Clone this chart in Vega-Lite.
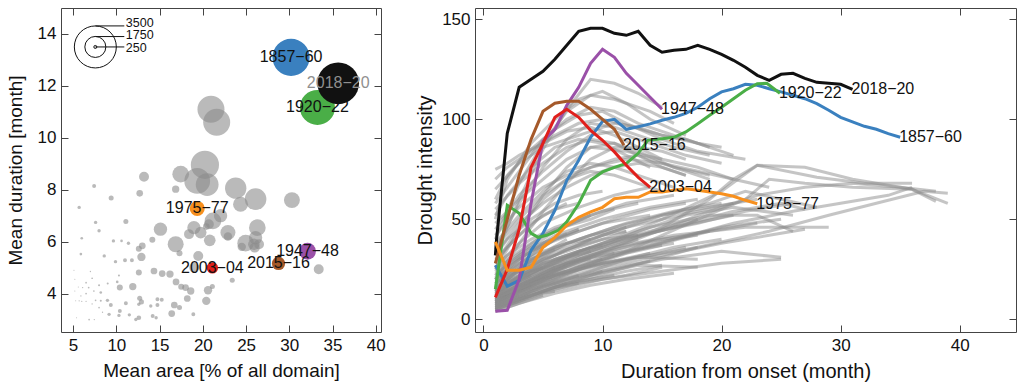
{
"$schema":"https://vega.github.io/schema/vega-lite/v6.json",
"padding":{"left":5,"top":4,"right":5,"bottom":0},
"spacing":29,
"datasets":{
"scat":[
{"area":20.94,"dur":11.1,"sev":2250},{"area":21.6,"dur":10.6,"sev":2250},{"area":20.24,"dur":8.96,"sev":2350},{"area":19.35,"dur":8.34,"sev":2150},{"area":20.5,"dur":8.2,"sev":1900},{"area":17.44,"dur":8.6,"sev":1390},{"area":23.8,"dur":8.06,"sev":1780},{"area":26.1,"dur":7.64,"sev":1800},{"area":24.36,"dur":7.44,"sev":1250},{"area":30.3,"dur":7.6,"sev":1330},
{"area":13.2,"dur":8.5,"sev":830},{"area":16.86,"dur":8.02,"sev":610},{"area":12.7,"dur":7.86,"sev":550},{"area":9.4,"dur":7.68,"sev":420},{"area":7.43,"dur":8.14,"sev":330},{"area":5.7,"dur":7.32,"sev":280},{"area":15.1,"dur":6.48,"sev":1110},{"area":16.86,"dur":5.9,"sev":1330},{"area":18.97,"dur":6.54,"sev":1110},{"area":19.75,"dur":6.35,"sev":970},
{"area":18.4,"dur":6.29,"sev":830},{"area":20.7,"dur":6.67,"sev":830},{"area":21.17,"dur":6.8,"sev":1390},{"area":22.05,"dur":7.0,"sev":1110},{"area":22.9,"dur":6.35,"sev":1250},{"area":20.8,"dur":6.05,"sev":970},{"area":26.3,"dur":6.54,"sev":1390},{"area":26.1,"dur":6.15,"sev":1110},{"area":24.95,"dur":5.94,"sev":1390},{"area":25.9,"dur":5.9,"sev":970},
{"area":26.5,"dur":5.9,"sev":830},{"area":24.5,"dur":5.8,"sev":700},{"area":33.4,"dur":4.94,"sev":830},{"area":19.47,"dur":5.45,"sev":830},{"area":14.16,"dur":6.07,"sev":500},{"area":13.0,"dur":5.84,"sev":560},{"area":17.3,"dur":5.55,"sev":500},{"area":19.0,"dur":5.0,"sev":830},{"area":15.3,"dur":4.77,"sev":560},{"area":16.2,"dur":4.75,"sev":610},
{"area":14.35,"dur":4.87,"sev":560},{"area":12.9,"dur":5.41,"sev":690},{"area":12.6,"dur":5.73,"sev":500},{"area":11.1,"dur":6.78,"sev":420},{"area":9.66,"dur":6.03,"sev":280},{"area":10.6,"dur":6.03,"sev":220},{"area":11.4,"dur":5.94,"sev":280},{"area":7.6,"dur":6.74,"sev":280},{"area":8.0,"dur":6.42,"sev":280},{"area":6.0,"dur":6.13,"sev":220},
{"area":5.9,"dur":5.52,"sev":220},{"area":8.6,"dur":5.45,"sev":280},{"area":9.9,"dur":5.23,"sev":280},{"area":11.0,"dur":5.28,"sev":330},{"area":11.8,"dur":5.28,"sev":330},{"area":12.6,"dur":4.81,"sev":500},{"area":16.9,"dur":4.45,"sev":560},{"area":17.5,"dur":4.26,"sev":500},{"area":18.0,"dur":4.23,"sev":560},{"area":18.6,"dur":4.1,"sev":610},
{"area":20.6,"dur":4.13,"sev":700},{"area":21.1,"dur":4.27,"sev":420},{"area":23.4,"dur":4.51,"sev":420},{"area":20.4,"dur":3.72,"sev":700},{"area":18.2,"dur":3.81,"sev":560},{"area":16.7,"dur":3.56,"sev":560},{"area":17.3,"dur":3.46,"sev":420},{"area":16.4,"dur":3.23,"sev":560},{"area":14.75,"dur":3.78,"sev":330},{"area":15.25,"dur":3.76,"sev":330},
{"area":14.75,"dur":3.56,"sev":330},{"area":13.98,"dur":3.52,"sev":280},{"area":14.2,"dur":3.14,"sev":330},{"area":14.6,"dur":3.07,"sev":280},{"area":18.9,"dur":3.2,"sev":330},{"area":11.9,"dur":4.27,"sev":610},{"area":10.4,"dur":4.23,"sev":500},{"area":12.7,"dur":3.82,"sev":420},{"area":12.9,"dur":3.68,"sev":420},{"area":12.6,"dur":3.59,"sev":280},
{"area":11.1,"dur":3.63,"sev":330},{"area":10.4,"dur":3.33,"sev":330},{"area":10.3,"dur":3.16,"sev":280},{"area":9.36,"dur":3.56,"sev":330},{"area":8.97,"dur":3.74,"sev":280},{"area":9.16,"dur":3.2,"sev":280},{"area":12.6,"dur":3.07,"sev":390},{"area":12.25,"dur":3.0,"sev":280},{"area":11.5,"dur":3.18,"sev":280},{"area":8.2,"dur":4.04,"sev":220},
{"area":9.0,"dur":4.39,"sev":170},{"area":10.1,"dur":4.45,"sev":220},{"area":10.3,"dur":4.7,"sev":170},{"area":8.0,"dur":4.32,"sev":170},{"area":7.2,"dur":4.59,"sev":140},{"area":6.5,"dur":4.42,"sev":140},{"area":6.1,"dur":4.23,"sev":110},{"area":6.8,"dur":4.23,"sev":140},{"area":7.4,"dur":4.1,"sev":140},{"area":6.5,"dur":4.0,"sev":140},
{"area":5.9,"dur":3.91,"sev":110},{"area":5.3,"dur":3.72,"sev":85},{"area":5.7,"dur":3.72,"sev":110},{"area":7.6,"dur":3.74,"sev":140},{"area":7.2,"dur":3.6,"sev":110},{"area":8.0,"dur":3.46,"sev":140},{"area":6.85,"dur":3.0,"sev":140},{"area":6.0,"dur":3.7,"sev":110},{"area":5.2,"dur":4.1,"sev":85},{"area":5.2,"dur":4.55,"sev":85},
{"area":5.1,"dur":4.9,"sev":85},{"area":5.4,"dur":3.07,"sev":85},{"area":7.0,"dur":4.85,"sev":110},{"area":8.2,"dur":3.72,"sev":170},{"area":8.4,"dur":3.28,"sev":110},{"area":5.6,"dur":4.25,"sev":85},{"area":6.5,"dur":3.7,"sev":110},{"area":7.45,"dur":3.0,"sev":110},{"area":20.4,"dur":6.58,"sev":550},{"area":26.0,"dur":5.77,"sev":830},
{"area":22.9,"dur":6.2,"sev":700}
],
"events":[
{"event":"1857−60","area":30.2,"dur":13.1,"sev":3100},
{"event":"1920−22","area":33.25,"dur":11.17,"sev":2920},
{"event":"2018−20","area":35.65,"dur":12.1,"sev":3475},
{"event":"1975−77","area":19.35,"dur":7.28,"sev":1250},
{"event":"1947−48","area":32.1,"dur":5.63,"sev":1400},
{"event":"2015−16","area":28.75,"dur":5.16,"sev":1100},
{"event":"2003−04","area":21.1,"dur":4.99,"sev":950}
],
"sizeKey":[
{"sev":3500,"ry":14.31,"ty":14.44},
{"sev":1750,"ry":13.9,"ty":13.97},
{"sev":250,"ry":13.5,"ty":13.46}
],
"hl":[
{"event":"2018−20","m":1,"v":32},{"event":"2018−20","m":1.1,"v":40},{"event":"2018−20","m":2,"v":93},{"event":"2018−20","m":3,"v":116},{"event":"2018−20","m":4,"v":120},{"event":"2018−20","m":5,"v":124},{"event":"2018−20","m":6,"v":130},{"event":"2018−20","m":7,"v":137},{"event":"2018−20","m":8,"v":144},{"event":"2018−20","m":9,"v":145.5},{"event":"2018−20","m":10,"v":145.5},{"event":"2018−20","m":11,"v":143},{"event":"2018−20","m":12,"v":142},{"event":"2018−20","m":13,"v":144},{"event":"2018−20","m":14,"v":137},{"event":"2018−20","m":15,"v":133.5},{"event":"2018−20","m":16,"v":134.5},{"event":"2018−20","m":17,"v":135},{"event":"2018−20","m":18,"v":137},{"event":"2018−20","m":19,"v":135},{"event":"2018−20","m":20,"v":132.5},{"event":"2018−20","m":21,"v":129.5},{"event":"2018−20","m":22,"v":126},{"event":"2018−20","m":23,"v":122},{"event":"2018−20","m":24,"v":119.5},{"event":"2018−20","m":25,"v":122.5},{"event":"2018−20","m":26,"v":123},{"event":"2018−20","m":27,"v":120.5},{"event":"2018−20","m":28,"v":118.5},{"event":"2018−20","m":29,"v":118},{"event":"2018−20","m":30,"v":117.5},{"event":"2018−20","m":31,"v":115},
{"event":"1857−60","m":1,"v":27},{"event":"1857−60","m":2,"v":16.5},{"event":"1857−60","m":3,"v":19.5},{"event":"1857−60","m":4,"v":34.5},{"event":"1857−60","m":5,"v":43},{"event":"1857−60","m":6,"v":54.5},{"event":"1857−60","m":7,"v":69.5},{"event":"1857−60","m":8,"v":79.5},{"event":"1857−60","m":9,"v":91},{"event":"1857−60","m":10,"v":99},{"event":"1857−60","m":11,"v":100},{"event":"1857−60","m":12,"v":95},{"event":"1857−60","m":13,"v":96.3},{"event":"1857−60","m":14,"v":97.7},{"event":"1857−60","m":15,"v":99.5},{"event":"1857−60","m":16,"v":101},{"event":"1857−60","m":17,"v":103},{"event":"1857−60","m":18,"v":106},{"event":"1857−60","m":19,"v":110.3},{"event":"1857−60","m":20,"v":113.7},{"event":"1857−60","m":21,"v":115.3},{"event":"1857−60","m":22,"v":117.5},{"event":"1857−60","m":23,"v":117},{"event":"1857−60","m":24,"v":115.3},{"event":"1857−60","m":25,"v":113.7},{"event":"1857−60","m":26,"v":112},{"event":"1857−60","m":27,"v":110.3},{"event":"1857−60","m":28,"v":107.8},{"event":"1857−60","m":29,"v":104.5},{"event":"1857−60","m":30,"v":101},{"event":"1857−60","m":31,"v":98.7},{"event":"1857−60","m":32,"v":96.5},{"event":"1857−60","m":33,"v":95},{"event":"1857−60","m":34,"v":92.8},{"event":"1857−60","m":35,"v":91},
{"event":"1920−22","m":1,"v":15},{"event":"1920−22","m":1.1,"v":19},{"event":"1920−22","m":2,"v":57},{"event":"1920−22","m":3,"v":53},{"event":"1920−22","m":4,"v":43},{"event":"1920−22","m":4.6,"v":41},{"event":"1920−22","m":5.3,"v":42},{"event":"1920−22","m":6.3,"v":44.5},{"event":"1920−22","m":7,"v":48.7},{"event":"1920−22","m":8,"v":57.8},{"event":"1920−22","m":9,"v":69.5},{"event":"1920−22","m":10,"v":73.7},{"event":"1920−22","m":11,"v":76},{"event":"1920−22","m":12,"v":78},{"event":"1920−22","m":13,"v":83},{"event":"1920−22","m":13.8,"v":89.5},{"event":"1920−22","m":15,"v":90.3},{"event":"1920−22","m":16,"v":91},{"event":"1920−22","m":17,"v":93.7},{"event":"1920−22","m":18,"v":97.8},{"event":"1920−22","m":19,"v":102},{"event":"1920−22","m":20,"v":106},{"event":"1920−22","m":21,"v":110.3},{"event":"1920−22","m":22,"v":114.5},{"event":"1920−22","m":23,"v":117.8},{"event":"1920−22","m":23.8,"v":118},{"event":"1920−22","m":24.9,"v":113},
{"event":"1947−48","m":1,"v":4},{"event":"1947−48","m":2,"v":4.5},{"event":"1947−48","m":3,"v":20},{"event":"1947−48","m":4,"v":58},{"event":"1947−48","m":5,"v":89},{"event":"1947−48","m":6,"v":95},{"event":"1947−48","m":7,"v":107},{"event":"1947−48","m":8,"v":116},{"event":"1947−48","m":9,"v":128},{"event":"1947−48","m":10,"v":135},{"event":"1947−48","m":11,"v":131},{"event":"1947−48","m":12,"v":123},{"event":"1947−48","m":13,"v":117},{"event":"1947−48","m":14,"v":111},{"event":"1947−48","m":15,"v":105},
{"event":"2015−16","m":1,"v":28},{"event":"2015−16","m":2,"v":50},{"event":"2015−16","m":3,"v":72},{"event":"2015−16","m":4,"v":90},{"event":"2015−16","m":5,"v":104},{"event":"2015−16","m":6,"v":108},{"event":"2015−16","m":7,"v":109},{"event":"2015−16","m":8,"v":109},{"event":"2015−16","m":9,"v":105},{"event":"2015−16","m":10,"v":100},{"event":"2015−16","m":11,"v":95},{"event":"2015−16","m":11.8,"v":87},
{"event":"2003−04","m":1,"v":11},{"event":"2003−04","m":2,"v":25},{"event":"2003−04","m":3,"v":45},{"event":"2003−04","m":4,"v":76},{"event":"2003−04","m":5,"v":88},{"event":"2003−04","m":6,"v":101},{"event":"2003−04","m":7,"v":105},{"event":"2003−04","m":8,"v":101},{"event":"2003−04","m":9,"v":94.5},{"event":"2003−04","m":10,"v":89.5},{"event":"2003−04","m":11,"v":83.7},{"event":"2003−04","m":12,"v":77},{"event":"2003−04","m":13,"v":71},{"event":"2003−04","m":14,"v":66},
{"event":"1975−77","m":1,"v":38.7},{"event":"1975−77","m":2,"v":24.5},{"event":"1975−77","m":3,"v":24.5},{"event":"1975−77","m":4,"v":26},{"event":"1975−77","m":5,"v":36},{"event":"1975−77","m":6,"v":41},{"event":"1975−77","m":7,"v":47},{"event":"1975−77","m":8,"v":51},{"event":"1975−77","m":9,"v":53.7},{"event":"1975−77","m":10,"v":56},{"event":"1975−77","m":11,"v":60.3},{"event":"1975−77","m":12,"v":61},{"event":"1975−77","m":13,"v":61},{"event":"1975−77","m":14,"v":63.7},{"event":"1975−77","m":15,"v":63.7},{"event":"1975−77","m":16,"v":64.5},{"event":"1975−77","m":17,"v":65.3},{"event":"1975−77","m":18,"v":64.5},{"event":"1975−77","m":19,"v":63.7},{"event":"1975−77","m":20,"v":62.8},{"event":"1975−77","m":21,"v":61.5},{"event":"1975−77","m":22,"v":59.5},{"event":"1975−77","m":23,"v":57.8}
],
"curves":[
{"id":"A1","m":1,"v":5},{"id":"A1","m":3,"v":9},{"id":"A1","m":5,"v":14},{"id":"A1","m":7,"v":18},
{"id":"A2","m":1,"v":6},{"id":"A2","m":2,"v":8},{"id":"A2","m":4,"v":14},{"id":"A2","m":6,"v":19},{"id":"A2","m":8,"v":22},
{"id":"A3","m":1,"v":8},{"id":"A3","m":3,"v":15},{"id":"A3","m":5,"v":22},{"id":"A3","m":7,"v":27},
{"id":"A4","m":1,"v":10},{"id":"A4","m":2,"v":14},{"id":"A4","m":4,"v":20},{"id":"A4","m":6,"v":26},
{"id":"A5","m":1,"v":12},{"id":"A5","m":3,"v":20},{"id":"A5","m":5,"v":28},{"id":"A5","m":8,"v":33},
{"id":"A6","m":1,"v":7},{"id":"A6","m":4,"v":18},{"id":"A6","m":7,"v":26},{"id":"A6","m":10,"v":30},
{"id":"A7","m":1,"v":9},{"id":"A7","m":3,"v":18},{"id":"A7","m":6,"v":30},{"id":"A7","m":9,"v":36},
{"id":"A8","m":1,"v":14},{"id":"A8","m":2,"v":20},{"id":"A8","m":4,"v":30},{"id":"A8","m":6,"v":35},
{"id":"A9","m":1,"v":15},{"id":"A9","m":3,"v":25},{"id":"A9","m":5,"v":33},{"id":"A9","m":7,"v":40},
{"id":"A10","m":1,"v":6},{"id":"A10","m":3,"v":11},{"id":"A10","m":6,"v":17},{"id":"A10","m":9,"v":20},{"id":"A10","m":11,"v":22},
{"id":"A11","m":1,"v":11},{"id":"A11","m":2,"v":13},{"id":"A11","m":5,"v":24},{"id":"A11","m":8,"v":29},{"id":"A11","m":11,"v":33},
{"id":"A12","m":1,"v":18},{"id":"A12","m":2,"v":23},{"id":"A12","m":4,"v":32},{"id":"A12","m":6,"v":40},
{"id":"A13","m":1,"v":20},{"id":"A13","m":3,"v":30},{"id":"A13","m":5,"v":38},{"id":"A13","m":8,"v":45},
{"id":"A14","m":1,"v":4},{"id":"A14","m":2,"v":6},{"id":"A14","m":4,"v":10},{"id":"A14","m":5,"v":12},
{"id":"A15","m":1,"v":13},{"id":"A15","m":4,"v":26},{"id":"A15","m":7,"v":35},{"id":"A15","m":10,"v":40},{"id":"A15","m":13,"v":42},
{"id":"A16","m":1,"v":9},{"id":"A16","m":3,"v":14},{"id":"A16","m":6,"v":22},{"id":"A16","m":10,"v":28},{"id":"A16","m":14,"v":33},
{"id":"A17","m":1,"v":16},{"id":"A17","m":3,"v":22},{"id":"A17","m":5,"v":30},{"id":"A17","m":9,"v":38},{"id":"A17","m":12,"v":44},
{"id":"A18","m":1,"v":22},{"id":"A18","m":2,"v":28},{"id":"A18","m":4,"v":36},{"id":"A18","m":7,"v":43},
{"id":"A19","m":1,"v":25},{"id":"A19","m":3,"v":33},{"id":"A19","m":5,"v":42},{"id":"A19","m":7,"v":47},{"id":"A19","m":9,"v":52},
{"id":"A20","m":1,"v":8},{"id":"A20","m":2,"v":10},{"id":"A20","m":3,"v":12},
{"id":"A21","m":1,"v":12},{"id":"A21","m":2,"v":16},{"id":"A21","m":3,"v":19},{"id":"A21","m":4,"v":22},
{"id":"A22","m":1,"v":17},{"id":"A22","m":3,"v":26},{"id":"A22","m":6,"v":36},{"id":"A22","m":9,"v":42},{"id":"A22","m":12,"v":46},
{"id":"A23","m":1,"v":5},{"id":"A23","m":4,"v":12},{"id":"A23","m":8,"v":18},{"id":"A23","m":12,"v":22},{"id":"A23","m":15,"v":26},
{"id":"A24","m":1,"v":7},{"id":"A24","m":5,"v":16},{"id":"A24","m":9,"v":22},{"id":"A24","m":13,"v":27},{"id":"A24","m":18,"v":26},
{"id":"A25","m":1,"v":10},{"id":"A25","m":5,"v":20},{"id":"A25","m":9,"v":26},{"id":"A25","m":13,"v":31},{"id":"A25","m":18,"v":30},
{"id":"A26","m":1,"v":14},{"id":"A26","m":4,"v":24},{"id":"A26","m":8,"v":30},{"id":"A26","m":12,"v":34},{"id":"A26","m":16,"v":38},
{"id":"A27","m":1,"v":19},{"id":"A27","m":3,"v":28},{"id":"A27","m":6,"v":40},{"id":"A27","m":10,"v":48},{"id":"A27","m":14,"v":52},
{"id":"A28","m":1,"v":28},{"id":"A28","m":2,"v":36},{"id":"A28","m":4,"v":48},{"id":"A28","m":6,"v":55},{"id":"A28","m":8,"v":58},
{"id":"A29","m":1,"v":30},{"id":"A29","m":3,"v":42},{"id":"A29","m":5,"v":52},{"id":"A29","m":7,"v":58},
{"id":"A30","m":1,"v":24},{"id":"A30","m":2,"v":30},{"id":"A30","m":4,"v":38},{"id":"A30","m":6,"v":45},{"id":"A30","m":9,"v":50},{"id":"A30","m":11,"v":55},
{"id":"A31","m":1,"v":5},{"id":"A31","m":2,"v":7},{"id":"A31","m":3,"v":9},{"id":"A31","m":4,"v":11},{"id":"A31","m":5,"v":13},{"id":"A31","m":6,"v":14},
{"id":"A32","m":1,"v":7},{"id":"A32","m":2,"v":10},{"id":"A32","m":4,"v":15},{"id":"A32","m":6,"v":18},{"id":"A32","m":8,"v":21},{"id":"A32","m":10,"v":24},
{"id":"A33","m":1,"v":9},{"id":"A33","m":2,"v":12},{"id":"A33","m":3,"v":16},{"id":"A33","m":5,"v":21},{"id":"A33","m":7,"v":24},
{"id":"A34","m":1,"v":11},{"id":"A34","m":3,"v":17},{"id":"A34","m":5,"v":23},{"id":"A34","m":7,"v":28},{"id":"A34","m":9,"v":30},
{"id":"A35","m":1,"v":13},{"id":"A35","m":2,"v":17},{"id":"A35","m":4,"v":25},{"id":"A35","m":6,"v":30},{"id":"A35","m":8,"v":34},{"id":"A35","m":10,"v":37},
{"id":"A36","m":1,"v":6},{"id":"A36","m":3,"v":12},{"id":"A36","m":5,"v":17},{"id":"A36","m":7,"v":20},{"id":"A36","m":9,"v":23},{"id":"A36","m":12,"v":27},{"id":"A36","m":14,"v":29},
{"id":"A37","m":1,"v":8},{"id":"A37","m":3,"v":14},{"id":"A37","m":5,"v":19},{"id":"A37","m":8,"v":25},{"id":"A37","m":11,"v":29},{"id":"A37","m":14,"v":32},{"id":"A37","m":17,"v":36},
{"id":"A38","m":1,"v":10},{"id":"A38","m":2,"v":12},{"id":"A38","m":3,"v":15},{"id":"A38","m":4,"v":17},
{"id":"A39","m":1,"v":15},{"id":"A39","m":2,"v":19},{"id":"A39","m":3,"v":22},{"id":"A39","m":5,"v":27},{"id":"A39","m":7,"v":31},{"id":"A39","m":9,"v":34},
{"id":"A40","m":1,"v":18},{"id":"A40","m":2,"v":22},{"id":"A40","m":4,"v":28},{"id":"A40","m":6,"v":34},{"id":"A40","m":8,"v":38},{"id":"A40","m":10,"v":42},{"id":"A40","m":12,"v":44},
{"id":"A41","m":1,"v":21},{"id":"A41","m":2,"v":26},{"id":"A41","m":4,"v":34},{"id":"A41","m":6,"v":40},{"id":"A41","m":8,"v":45},
{"id":"A42","m":1,"v":4},{"id":"A42","m":3,"v":8},{"id":"A42","m":6,"v":13},{"id":"A42","m":9,"v":17},{"id":"A42","m":12,"v":20},{"id":"A42","m":16,"v":23},
{"id":"A43","m":1,"v":12},{"id":"A43","m":4,"v":19},{"id":"A43","m":8,"v":26},{"id":"A43","m":12,"v":30},{"id":"A43","m":16,"v":34},{"id":"A43","m":18,"v":36},
{"id":"A44","m":1,"v":26},{"id":"A44","m":2,"v":32},{"id":"A44","m":4,"v":40},{"id":"A44","m":6,"v":46},{"id":"A44","m":8,"v":50},{"id":"A44","m":10,"v":54},{"id":"A44","m":13,"v":58},
{"id":"A45","m":1,"v":32},{"id":"A45","m":2,"v":40},{"id":"A45","m":4,"v":50},{"id":"A45","m":6,"v":58},{"id":"A45","m":8,"v":62},{"id":"A45","m":10,"v":64},
{"id":"A46","m":1,"v":23},{"id":"A46","m":3,"v":31},{"id":"A46","m":5,"v":37},{"id":"A46","m":8,"v":44},{"id":"A46","m":11,"v":50},{"id":"A46","m":14,"v":55},{"id":"A46","m":17,"v":58},
{"id":"A47","m":1,"v":16},{"id":"A47","m":3,"v":24},{"id":"A47","m":6,"v":32},{"id":"A47","m":9,"v":40},{"id":"A47","m":12,"v":46},{"id":"A47","m":15,"v":50},{"id":"A47","m":18,"v":54},{"id":"A47","m":21,"v":58},
{"id":"A48","m":1,"v":5},{"id":"A48","m":2,"v":8},{"id":"A48","m":3,"v":10},{"id":"A48","m":4,"v":13},{"id":"A48","m":6,"v":16},{"id":"A48","m":8,"v":18},
{"id":"A49","m":1,"v":14},{"id":"A49","m":2,"v":18},{"id":"A49","m":3,"v":20},{"id":"A49","m":4,"v":24},{"id":"A49","m":5,"v":26},
{"id":"A50","m":1,"v":20},{"id":"A50","m":2,"v":24},{"id":"A50","m":3,"v":28},{"id":"A50","m":5,"v":34},{"id":"A50","m":7,"v":38},{"id":"A50","m":9,"v":40},
{"id":"B1","m":1,"v":6},{"id":"B1","m":4,"v":14},{"id":"B1","m":8,"v":22},{"id":"B1","m":12,"v":30},{"id":"B1","m":16,"v":36},{"id":"B1","m":20,"v":40},
{"id":"B2","m":1,"v":9},{"id":"B2","m":5,"v":20},{"id":"B2","m":10,"v":30},{"id":"B2","m":15,"v":38},{"id":"B2","m":19,"v":44},{"id":"B2","m":23,"v":48},
{"id":"B3","m":1,"v":12},{"id":"B3","m":4,"v":22},{"id":"B3","m":8,"v":32},{"id":"B3","m":12,"v":40},{"id":"B3","m":16,"v":46},{"id":"B3","m":21,"v":52},
{"id":"B4","m":1,"v":15},{"id":"B4","m":5,"v":28},{"id":"B4","m":10,"v":38},{"id":"B4","m":14,"v":44},{"id":"B4","m":18,"v":50},
{"id":"B5","m":1,"v":8},{"id":"B5","m":6,"v":22},{"id":"B5","m":11,"v":33},{"id":"B5","m":16,"v":40},{"id":"B5","m":20,"v":46},{"id":"B5","m":25,"v":50},
{"id":"B6","m":1,"v":18},{"id":"B6","m":4,"v":30},{"id":"B6","m":8,"v":40},{"id":"B6","m":12,"v":48},{"id":"B6","m":16,"v":54},{"id":"B6","m":20,"v":58},
{"id":"B7","m":1,"v":5},{"id":"B7","m":5,"v":14},{"id":"B7","m":10,"v":24},{"id":"B7","m":15,"v":30},{"id":"B7","m":20,"v":34},{"id":"B7","m":25,"v":31},
{"id":"B8","m":1,"v":10},{"id":"B8","m":5,"v":22},{"id":"B8","m":9,"v":34},{"id":"B8","m":13,"v":44},{"id":"B8","m":17,"v":52},{"id":"B8","m":21,"v":56},{"id":"B8","m":26,"v":52},
{"id":"B9","m":1,"v":20},{"id":"B9","m":3,"v":30},{"id":"B9","m":6,"v":42},{"id":"B9","m":10,"v":50},{"id":"B9","m":14,"v":56},{"id":"B9","m":18,"v":60},
{"id":"B10","m":1,"v":7},{"id":"B10","m":4,"v":16},{"id":"B10","m":8,"v":25},{"id":"B10","m":12,"v":33},{"id":"B10","m":15,"v":37},
{"id":"B11","m":1,"v":11},{"id":"B11","m":6,"v":26},{"id":"B11","m":11,"v":36},{"id":"B11","m":16,"v":42},{"id":"B11","m":22,"v":46},{"id":"B11","m":29,"v":46},
{"id":"B12","m":1,"v":13},{"id":"B12","m":5,"v":26},{"id":"B12","m":9,"v":36},{"id":"B12","m":14,"v":46},{"id":"B12","m":19,"v":52},{"id":"B12","m":23,"v":52},{"id":"B12","m":26,"v":44},
{"id":"B13","m":1,"v":16},{"id":"B13","m":4,"v":28},{"id":"B13","m":7,"v":38},{"id":"B13","m":11,"v":46},{"id":"B13","m":15,"v":52},{"id":"B13","m":19,"v":56},{"id":"B13","m":23,"v":60},
{"id":"B14","m":1,"v":9},{"id":"B14","m":4,"v":18},{"id":"B14","m":7,"v":27},{"id":"B14","m":10,"v":35},{"id":"B14","m":13,"v":40},
{"id":"B15","m":1,"v":22},{"id":"B15","m":3,"v":32},{"id":"B15","m":6,"v":44},{"id":"B15","m":9,"v":52},{"id":"B15","m":12,"v":58},{"id":"B15","m":16,"v":62},
{"id":"B16","m":1,"v":12},{"id":"B16","m":3,"v":18},{"id":"B16","m":6,"v":26},{"id":"B16","m":9,"v":32},{"id":"B16","m":12,"v":36},{"id":"B16","m":15,"v":40},{"id":"B16","m":18,"v":42},
{"id":"B17","m":1,"v":14},{"id":"B17","m":4,"v":22},{"id":"B17","m":8,"v":34},{"id":"B17","m":13,"v":42},{"id":"B17","m":18,"v":48},{"id":"B17","m":22,"v":54},{"id":"B17","m":26,"v":58},
{"id":"B18","m":1,"v":6},{"id":"B18","m":3,"v":10},{"id":"B18","m":6,"v":16},{"id":"B18","m":9,"v":20},{"id":"B18","m":12,"v":24},{"id":"B18","m":15,"v":27},
{"id":"B19","m":1,"v":26},{"id":"B19","m":3,"v":38},{"id":"B19","m":5,"v":48},{"id":"B19","m":8,"v":56},{"id":"B19","m":11,"v":62},{"id":"B19","m":14,"v":66},
{"id":"B20","m":1,"v":10},{"id":"B20","m":3,"v":16},{"id":"B20","m":6,"v":24},{"id":"B20","m":10,"v":33},{"id":"B20","m":13,"v":38},{"id":"B20","m":16,"v":41},{"id":"B20","m":19,"v":44},
{"id":"C1","m":1,"v":32},{"id":"C1","m":3,"v":60},{"id":"C1","m":5,"v":85},{"id":"C1","m":7,"v":105},{"id":"C1","m":9,"v":120},{"id":"C1","m":11,"v":118},{"id":"C1","m":13,"v":113},{"id":"C1","m":15,"v":106},
{"id":"C2","m":1,"v":40},{"id":"C2","m":3,"v":68},{"id":"C2","m":5,"v":88},{"id":"C2","m":7,"v":104},{"id":"C2","m":9,"v":112},{"id":"C2","m":11,"v":110},{"id":"C2","m":14,"v":104},{"id":"C2","m":16,"v":98},
{"id":"C3","m":1,"v":50},{"id":"C3","m":2,"v":70},{"id":"C3","m":4,"v":88},{"id":"C3","m":6,"v":100},{"id":"C3","m":8,"v":110},{"id":"C3","m":10,"v":114},{"id":"C3","m":12,"v":108},{"id":"C3","m":14,"v":100},{"id":"C3","m":17,"v":92},
{"id":"C4","m":1,"v":35},{"id":"C4","m":3,"v":58},{"id":"C4","m":5,"v":76},{"id":"C4","m":7,"v":90},{"id":"C4","m":9,"v":98},{"id":"C4","m":11,"v":96},{"id":"C4","m":13,"v":92},{"id":"C4","m":16,"v":86},{"id":"C4","m":19,"v":82},
{"id":"C5","m":1,"v":60},{"id":"C5","m":2,"v":72},{"id":"C5","m":4,"v":85},{"id":"C5","m":6,"v":95},{"id":"C5","m":8,"v":102},{"id":"C5","m":10,"v":104},{"id":"C5","m":12,"v":98},{"id":"C5","m":15,"v":90},{"id":"C5","m":18,"v":84},{"id":"C5","m":22,"v":80},
{"id":"C6","m":1,"v":45},{"id":"C6","m":3,"v":62},{"id":"C6","m":5,"v":74},{"id":"C6","m":7,"v":84},{"id":"C6","m":9,"v":92},{"id":"C6","m":11,"v":94},{"id":"C6","m":14,"v":88},{"id":"C6","m":17,"v":82},{"id":"C6","m":20,"v":78},
{"id":"C7","m":1,"v":25},{"id":"C7","m":3,"v":45},{"id":"C7","m":5,"v":62},{"id":"C7","m":7,"v":76},{"id":"C7","m":9,"v":86},{"id":"C7","m":11,"v":88},{"id":"C7","m":13,"v":84},{"id":"C7","m":16,"v":76},{"id":"C7","m":19,"v":72},
{"id":"C8","m":1,"v":70},{"id":"C8","m":2,"v":76},{"id":"C8","m":4,"v":84},{"id":"C8","m":6,"v":92},{"id":"C8","m":8,"v":98},{"id":"C8","m":10,"v":100},{"id":"C8","m":12,"v":97},{"id":"C8","m":15,"v":92},{"id":"C8","m":18,"v":88},{"id":"C8","m":20,"v":86},
{"id":"C9","m":1,"v":55},{"id":"C9","m":3,"v":68},{"id":"C9","m":5,"v":78},{"id":"C9","m":7,"v":86},{"id":"C9","m":9,"v":90},{"id":"C9","m":11,"v":88},{"id":"C9","m":13,"v":82},{"id":"C9","m":15,"v":76},{"id":"C9","m":17,"v":72},
{"id":"C10","m":1,"v":20},{"id":"C10","m":3,"v":38},{"id":"C10","m":5,"v":54},{"id":"C10","m":7,"v":68},{"id":"C10","m":9,"v":80},{"id":"C10","m":11,"v":86},{"id":"C10","m":13,"v":86},{"id":"C10","m":15,"v":84},{"id":"C10","m":17,"v":80},
{"id":"C11","m":1,"v":75},{"id":"C11","m":2,"v":78},{"id":"C11","m":3,"v":82},{"id":"C11","m":5,"v":88},{"id":"C11","m":7,"v":94},{"id":"C11","m":9,"v":96},{"id":"C11","m":11,"v":92},{"id":"C11","m":13,"v":86},{"id":"C11","m":15,"v":80},
{"id":"C12","m":1,"v":38},{"id":"C12","m":3,"v":52},{"id":"C12","m":5,"v":64},{"id":"C12","m":7,"v":74},{"id":"C12","m":9,"v":78},{"id":"C12","m":11,"v":76},{"id":"C12","m":13,"v":72},{"id":"C12","m":16,"v":66},
{"id":"C13","m":1,"v":48},{"id":"C13","m":3,"v":60},{"id":"C13","m":5,"v":70},{"id":"C13","m":7,"v":80},{"id":"C13","m":9,"v":86},{"id":"C13","m":12,"v":84},{"id":"C13","m":15,"v":80},{"id":"C13","m":18,"v":76},{"id":"C13","m":21,"v":70},
{"id":"C14","m":1,"v":28},{"id":"C14","m":3,"v":46},{"id":"C14","m":5,"v":60},{"id":"C14","m":7,"v":70},{"id":"C14","m":9,"v":74},{"id":"C14","m":11,"v":72},{"id":"C14","m":13,"v":68},{"id":"C14","m":15,"v":64},
{"id":"C15","m":1,"v":65},{"id":"C15","m":3,"v":78},{"id":"C15","m":5,"v":86},{"id":"C15","m":7,"v":90},{"id":"C15","m":9,"v":94},{"id":"C15","m":11,"v":98},{"id":"C15","m":13,"v":96},{"id":"C15","m":15,"v":92},{"id":"C15","m":17,"v":90},{"id":"C15","m":19,"v":86},
{"id":"C16","m":1,"v":42},{"id":"C16","m":3,"v":56},{"id":"C16","m":5,"v":66},{"id":"C16","m":7,"v":72},{"id":"C16","m":9,"v":76},{"id":"C16","m":11,"v":80},{"id":"C16","m":13,"v":82},{"id":"C16","m":15,"v":78},{"id":"C16","m":17,"v":74},{"id":"C16","m":19,"v":70},
{"id":"C17","m":1,"v":52},{"id":"C17","m":2,"v":62},{"id":"C17","m":4,"v":76},{"id":"C17","m":6,"v":86},{"id":"C17","m":8,"v":90},{"id":"C17","m":10,"v":88},{"id":"C17","m":12,"v":82},{"id":"C17","m":14,"v":76},
{"id":"C18","m":1,"v":33},{"id":"C18","m":3,"v":48},{"id":"C18","m":5,"v":58},{"id":"C18","m":7,"v":66},{"id":"C18","m":9,"v":72},{"id":"C18","m":11,"v":76},{"id":"C18","m":13,"v":78},{"id":"C18","m":15,"v":76},{"id":"C18","m":17,"v":72},
{"id":"C19","m":1,"v":58},{"id":"C19","m":3,"v":74},{"id":"C19","m":5,"v":90},{"id":"C19","m":7,"v":100},{"id":"C19","m":9,"v":106},{"id":"C19","m":11,"v":104},{"id":"C19","m":13,"v":98},{"id":"C19","m":15,"v":94},{"id":"C19","m":17,"v":90},{"id":"C19","m":19,"v":86},{"id":"C19","m":21,"v":82},
{"id":"C20","m":1,"v":36},{"id":"C20","m":3,"v":50},{"id":"C20","m":5,"v":62},{"id":"C20","m":7,"v":70},{"id":"C20","m":9,"v":76},{"id":"C20","m":12,"v":80},{"id":"C20","m":15,"v":78},{"id":"C20","m":18,"v":74},{"id":"C20","m":21,"v":70},{"id":"C20","m":24,"v":66},
{"id":"D1","m":1,"v":10},{"id":"D1","m":5,"v":22},{"id":"D1","m":10,"v":34},{"id":"D1","m":15,"v":46},{"id":"D1","m":19,"v":60},{"id":"D1","m":21,"v":70},{"id":"D1","m":23,"v":77},{"id":"D1","m":27,"v":76},{"id":"D1","m":31,"v":70},{"id":"D1","m":34,"v":67},{"id":"D1","m":36,"v":65},{"id":"D1","m":38,"v":59},
{"id":"D2","m":1,"v":14},{"id":"D2","m":5,"v":26},{"id":"D2","m":10,"v":38},{"id":"D2","m":15,"v":50},{"id":"D2","m":20,"v":64},{"id":"D2","m":23,"v":77},{"id":"D2","m":28,"v":71},{"id":"D2","m":32,"v":68},{"id":"D2","m":36,"v":68},
{"id":"D3","m":1,"v":8},{"id":"D3","m":6,"v":20},{"id":"D3","m":12,"v":34},{"id":"D3","m":18,"v":50},{"id":"D3","m":22,"v":60},{"id":"D3","m":24,"v":70},{"id":"D3","m":27,"v":68},{"id":"D3","m":31,"v":66},{"id":"D3","m":36,"v":65},{"id":"D3","m":39,"v":58},
{"id":"D4","m":1,"v":12},{"id":"D4","m":6,"v":24},{"id":"D4","m":12,"v":38},{"id":"D4","m":18,"v":52},{"id":"D4","m":23,"v":62},{"id":"D4","m":27,"v":66},{"id":"D4","m":31,"v":68},{"id":"D4","m":35,"v":66},{"id":"D4","m":38,"v":64},
{"id":"D5","m":1,"v":6},{"id":"D5","m":6,"v":16},{"id":"D5","m":12,"v":26},{"id":"D5","m":18,"v":36},{"id":"D5","m":24,"v":44},{"id":"D5","m":29,"v":52},{"id":"D5","m":33,"v":58},{"id":"D5","m":37,"v":64},{"id":"D5","m":39,"v":63},
{"id":"D6","m":1,"v":9},{"id":"D6","m":5,"v":18},{"id":"D6","m":10,"v":26},{"id":"D6","m":15,"v":32},{"id":"D6","m":20,"v":38},{"id":"D6","m":24,"v":42},{"id":"D6","m":27,"v":45},
{"id":"D7","m":1,"v":11},{"id":"D7","m":6,"v":22},{"id":"D7","m":11,"v":32},{"id":"D7","m":16,"v":40},{"id":"D7","m":21,"v":48},{"id":"D7","m":26,"v":54},{"id":"D7","m":30,"v":58},{"id":"D7","m":34,"v":62},{"id":"D7","m":36,"v":66},
{"id":"D8","m":1,"v":7},{"id":"D8","m":5,"v":13},{"id":"D8","m":10,"v":20},{"id":"D8","m":15,"v":24},{"id":"D8","m":20,"v":28},{"id":"D8","m":25,"v":30},
{"id":"D9","m":1,"v":16},{"id":"D9","m":6,"v":28},{"id":"D9","m":11,"v":38},{"id":"D9","m":16,"v":46},{"id":"D9","m":21,"v":54},{"id":"D9","m":25,"v":58},{"id":"D9","m":27,"v":55},
{"id":"D10","m":1,"v":18},{"id":"D10","m":5,"v":30},{"id":"D10","m":10,"v":42},{"id":"D10","m":15,"v":52},{"id":"D10","m":19,"v":58},{"id":"D10","m":22,"v":64},{"id":"D10","m":25,"v":60},{"id":"D10","m":28,"v":56}
]
},
"hconcat":[
{
"width":320,"height":324,
"title":{"text":" ","fontSize":3,"offset":0},
"resolve":{"axis":{"x":"independent","y":"independent"}},
"layer":[
{"data":{"name":"scat"},"mark":{"type":"circle","fill":"#8c8c8c","opacity":0.6},
"encoding":{
"x":{"field":"area","type":"quantitative","scale":{"domain":[3.6,40.6],"nice":false,"zero":false},"axis":{"orient":"bottom","values":[5,10,15,20,25,30,35,40],"title":"Mean area [% of all domain]","titlePadding":8}},
"y":{"field":"dur","type":"quantitative","scale":{"domain":[2.52,15],"nice":false,"zero":false},"axis":{"orient":"left","values":[4,6,8,10,12,14],"title":"Mean duration [month]","titlePadding":12}},
"size":{"field":"sev","type":"quantitative","scale":{"type":"pow","exponent":2,"domain":[0,3500],"range":[0,1764]},"legend":null}}},
{"data":{"name":"events"},"mark":{"type":"circle","opacity":1},
"encoding":{
"x":{"field":"area","type":"quantitative","axis":{"orient":"top","values":[5,10,15,20,25,30,35,40],"labels":false,"title":null}},
"y":{"field":"dur","type":"quantitative","axis":{"orient":"right","values":[4,6,8,10,12,14],"labels":false,"title":null}},
"size":{"field":"sev","type":"quantitative","legend":null},
"color":{"field":"event","type":"nominal","scale":{"domain":["1857−60","2018−20","1920−22","1975−77","1947−48","2015−16","2003−04"],"range":["#3a80bf","#111111","#4aae47","#f7901e","#9a50a8","#a5592a","#e0201c"]},"legend":null}}},
{"data":{"name":"events"},"mark":{"type":"text","fontSize":16,"baseline":"middle"},
"encoding":{
"x":{"field":"area","type":"quantitative","axis":null},
"y":{"field":"dur","type":"quantitative","axis":null},
"text":{"field":"event"},
"color":{"condition":{"test":"datum.event === '2018−20'","value":"#8f8f8f"},"value":"#111111"}}},
{"data":{"name":"sizeKey"},"mark":{"type":"point","shape":"circle","filled":false,"stroke":"#111111","strokeWidth":1,"opacity":1},
"encoding":{
"x":{"datum":7.57,"type":"quantitative","axis":null},
"y":{"datum":13.5,"type":"quantitative","axis":null},
"size":{"field":"sev","type":"quantitative","legend":null}}},
{"data":{"name":"sizeKey"},"mark":{"type":"rule","stroke":"#111111","strokeWidth":1},
"encoding":{
"x":{"datum":7.57,"type":"quantitative","axis":null},
"x2":{"datum":10.92},
"y":{"field":"ry","type":"quantitative","axis":null}}},
{"data":{"name":"sizeKey"},"mark":{"type":"text","align":"left","baseline":"middle","fontSize":12.5,"color":"#111111"},
"encoding":{
"x":{"datum":11.1,"type":"quantitative","axis":null},
"y":{"field":"ty","type":"quantitative","axis":null},
"text":{"field":"sev","type":"nominal"}}}
]
},
{
"width":541,"height":324,
"resolve":{"axis":{"x":"independent","y":"independent"}},
"layer":[
{"data":{"name":"curves"},"mark":{"type":"line","stroke":"#8c8c8c","strokeWidth":3,"opacity":0.5},
"encoding":{
"x":{"field":"m","type":"quantitative","scale":{"domain":[-0.71,44.73],"nice":false,"zero":false},"axis":{"orient":"bottom","values":[0,10,20,30,40],"title":"Duration from onset (month)","titleFontSize":20,"titlePadding":8}},
"y":{"field":"v","type":"quantitative","scale":{"domain":[-6.35,155.65],"nice":false,"zero":false},"axis":{"orient":"left","values":[0,50,100,150],"title":"Drought intensity","titleFontSize":20,"titlePadding":6}},
"detail":{"field":"id","type":"nominal"}}},
{"data":{"name":"hl"},"mark":{"type":"line","strokeWidth":3},
"encoding":{
"x":{"field":"m","type":"quantitative","axis":{"orient":"top","values":[0,10,20,30,40],"labels":false,"title":null}},
"y":{"field":"v","type":"quantitative","axis":{"orient":"right","values":[0,50,100,150],"labels":false,"title":null}},
"color":{"field":"event","type":"nominal","scale":{"domain":["1857−60","2018−20","1920−22","1975−77","1947−48","2015−16","2003−04"],"range":["#3a80bf","#111111","#4aae47","#f7901e","#9a50a8","#a5592a","#e0201c"]},"legend":null}}},
{"data":{"name":"hl"},"transform":[{"aggregate":[{"op":"argmax","field":"m","as":"last"}],"groupby":["event"]}],
"mark":{"type":"text","align":"left","baseline":"middle","fontSize":16,"dx":-1,"color":"#111111"},
"encoding":{
"x":{"field":"last.m","type":"quantitative","axis":null},
"y":{"field":"last.v","type":"quantitative","axis":null},
"text":{"field":"event","type":"nominal"}}}
]
}
],
"config":{
"font":"Liberation Sans",
"view":{"stroke":"#444444","strokeWidth":1},
"axis":{"domain":false,"grid":false,"tickColor":"#444444","tickSize":-7,"tickWidth":1,"labelPadding":12,"labelFontSize":17,"labelColor":"#111111","labelFont":"Liberation Sans","labelFlush":false,"titleFont":"Liberation Sans","titleFontSize":19,"titleFontWeight":"normal","titleColor":"#111111"},
"text":{"font":"Liberation Sans"}
}
}
